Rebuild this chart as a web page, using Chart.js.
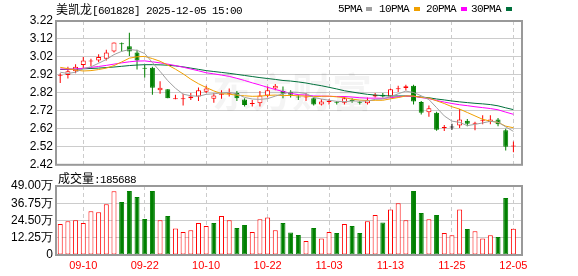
<!DOCTYPE html>
<html>
<head>
<meta charset="utf-8">
<script src="https://cdn.jsdelivr.net/npm/chart.js@4.4.1/dist/chart.umd.min.js"></script>
<style>
  html, body { margin: 0; padding: 0; background: #fff; }
  #wrap { position: relative; width: 578px; height: 276px; overflow: hidden; }
  canvas { position: absolute; left: 0; }
  #price-canvas { top: 0; }
  #vol-canvas { top: 170px; }
  .txt { position: absolute; font-family: "Noto Sans CJK SC"; font-size: 12px; line-height: 14px; color: #000; white-space: nowrap; }
  .mono { font-family: "Liberation Mono"; font-size: 11px; letter-spacing: -0.6px; }
  .sw { position: absolute; width: 6px; height: 4px; }
</style>
</head>
<body>
<div id="wrap">
  <canvas id="price-canvas" width="578" height="175"></canvas>
  <canvas id="vol-canvas" width="578" height="106"></canvas>
  <div class="txt" style="left:56px; top:2px">美凯龙<span class="mono">[601828] 2025-12-05 15:00</span></div>
  <div id="legend"></div>
  <div class="txt" style="left:58px; top:171px">成交量<span class="mono">:185688</span></div>
</div>
<script>
const dates = [
  "09-05", "09-08", "09-09", "09-10", "09-11", "09-12", "09-15", "09-16", "09-17", "09-18",
  "09-19", "09-22", "09-23", "09-24", "09-25", "09-26", "09-29", "09-30", "10-09", "10-10",
  "10-13", "10-14", "10-15", "10-16", "10-17", "10-20", "10-21", "10-22", "10-23", "10-24",
  "10-27", "10-28", "10-29", "10-30", "10-31", "11-03", "11-04", "11-05", "11-06", "11-07",
  "11-10", "11-11", "11-12", "11-13", "11-14", "11-17", "11-18", "11-19", "11-20", "11-21",
  "11-24", "11-25", "11-26", "11-27", "11-28", "12-01", "12-02", "12-03", "12-04", "12-05"
];
const opens = [
  2.915, 2.92, 2.94, 2.975, 2.995, 3.00, 3.01, 3.05, 3.095, 3.08,
  3.045, 2.96, 2.96, 2.835, 2.84, 2.785, 2.785, 2.79, 2.80, 2.826,
  2.788, 2.81, 2.812, 2.82, 2.783, 2.758, 2.762, 2.805, 2.845, 2.83,
  2.825, 2.80, 2.795, 2.79, 2.755, 2.77, 2.768, 2.765, 2.778, 2.77,
  2.762, 2.80, 2.81, 2.80, 2.84, 2.847, 2.86, 2.77, 2.712, 2.71,
  2.625, 2.628, 2.638, 2.665, 2.648, 2.665, 2.658, 2.672, 2.612, 2.522
];
const highs = [
  2.93, 2.965, 2.98, 3.02, 3.01, 3.035, 3.06, 3.10, 3.10, 3.155,
  3.06, 2.975, 2.965, 2.885, 2.842, 2.81, 2.815, 2.82, 2.85, 2.86,
  2.82, 2.835, 2.845, 2.83, 2.79, 2.78, 2.83, 2.855, 2.87, 2.855,
  2.835, 2.81, 2.82, 2.795, 2.785, 2.785, 2.775, 2.80, 2.79, 2.775,
  2.795, 2.82, 2.82, 2.845, 2.86, 2.865, 2.865, 2.775, 2.75, 2.715,
  2.642, 2.648, 2.73, 2.675, 2.66, 2.695, 2.695, 2.68, 2.62, 2.55
];
const lows = [
  2.875, 2.90, 2.93, 2.955, 2.97, 2.99, 3.00, 3.045, 3.05, 3.025,
  2.95, 2.905, 2.81, 2.815, 2.79, 2.785, 2.75, 2.78, 2.775, 2.82,
  2.765, 2.787, 2.80, 2.775, 2.745, 2.745, 2.745, 2.795, 2.835, 2.79,
  2.795, 2.78, 2.775, 2.75, 2.75, 2.755, 2.755, 2.755, 2.765, 2.755,
  2.755, 2.795, 2.795, 2.795, 2.825, 2.833, 2.755, 2.70, 2.688, 2.61,
  2.608, 2.615, 2.625, 2.635, 2.612, 2.645, 2.645, 2.635, 2.50, 2.49
];
const closes = [
  2.92, 2.94, 2.965, 3.00, 3.00, 3.02, 3.045, 3.10, 3.09, 3.05,
  3.00, 2.955, 2.848, 2.848, 2.79, 2.79, 2.79, 2.80, 2.835, 2.845,
  2.805, 2.813, 2.815, 2.79, 2.752, 2.76, 2.805, 2.835, 2.86, 2.815,
  2.81, 2.795, 2.80, 2.755, 2.772, 2.773, 2.765, 2.79, 2.775, 2.765,
  2.782, 2.81, 2.80, 2.84, 2.843, 2.857, 2.772, 2.71, 2.735, 2.615,
  2.628, 2.628, 2.672, 2.648, 2.65, 2.668, 2.672, 2.645, 2.52, 2.525
];
// volume in 万 shares
const volumes = [
  22.0, 23.9, 24.6, 22.7, 31.0, 30.3, 36.0, 45.2, 37.6, 45.4,
  41.2, 25.6, 45.4, 24.6, 27.7, 18.9, 16.3, 17.5, 22.7, 20.6,
  22.7, 27.7, 24.6, 19.2, 21.3, 16.3, 25.3, 26.7, 17.5, 22.7,
  15.9, 14.2, 9.9, 19.2, 11.8, 16.3, 15.6, 22.0, 20.6, 15.6,
  23.9, 28.4, 23.0, 32.4, 36.7, 24.6, 45.4, 29.8, 25.3, 28.4,
  15.6, 14.0, 32.4, 18.5, 16.8, 11.8, 14.0, 12.8, 40.5, 18.57
];
const ma5 = [
  2.935, 2.928, 2.935, 2.955, 2.965, 2.985, 3.006, 3.033, 3.051, 3.061,
  3.057, 3.039, 2.989, 2.940, 2.888, 2.846, 2.813, 2.804, 2.801, 2.812,
  2.815, 2.820, 2.823, 2.814, 2.795, 2.786, 2.784, 2.788, 2.802, 2.815,
  2.825, 2.823, 2.816, 2.795, 2.786, 2.779, 2.773, 2.771, 2.775, 2.774,
  2.775, 2.784, 2.786, 2.799, 2.815, 2.830, 2.822, 2.804, 2.783, 2.738,
  2.692, 2.663, 2.656, 2.638, 2.645, 2.653, 2.662, 2.657, 2.631, 2.606
];
const ma10 = [
  2.962, 2.955, 2.947, 2.942, 2.944, 2.950, 2.958, 2.972, 2.992, 3.013,
  3.021, 3.023, 3.011, 2.996, 2.975, 2.952, 2.926, 2.896, 2.871, 2.850,
  2.831, 2.816, 2.813, 2.807, 2.804, 2.801, 2.802, 2.806, 2.808, 2.805,
  2.806, 2.804, 2.802, 2.799, 2.801, 2.802, 2.798, 2.794, 2.785, 2.780,
  2.777, 2.779, 2.779, 2.787, 2.794, 2.803, 2.803, 2.795, 2.791, 2.776,
  2.761, 2.743, 2.730, 2.711, 2.692, 2.673, 2.663, 2.656, 2.635, 2.626
];
const ma20 = [
  2.953, 2.952, 2.953, 2.957, 2.962, 2.967, 2.973, 2.980, 2.987, 2.993,
  2.997, 2.998, 2.993, 2.987, 2.980, 2.972, 2.963, 2.953, 2.943, 2.932,
  2.926, 2.919, 2.912, 2.901, 2.889, 2.876, 2.864, 2.851, 2.839, 2.828,
  2.818, 2.810, 2.808, 2.803, 2.802, 2.801, 2.800, 2.800, 2.797, 2.793,
  2.791, 2.791, 2.790, 2.793, 2.798, 2.802, 2.801, 2.794, 2.788, 2.778,
  2.769, 2.761, 2.754, 2.749, 2.743, 2.738, 2.733, 2.726, 2.713, 2.701
];
const ma30 = [
  2.950, 2.951, 2.952, 2.954, 2.956, 2.958, 2.961, 2.964, 2.968, 2.972,
  2.975, 2.977, 2.977, 2.976, 2.974, 2.970, 2.965, 2.958, 2.951, 2.944,
  2.939, 2.934, 2.929, 2.923, 2.917, 2.911, 2.905, 2.900, 2.895, 2.889,
  2.886, 2.881, 2.875, 2.867, 2.860, 2.851, 2.842, 2.832, 2.825, 2.818,
  2.812, 2.808, 2.805, 2.803, 2.803, 2.803, 2.801, 2.797, 2.793, 2.786,
  2.781, 2.775, 2.770, 2.766, 2.762, 2.759, 2.755, 2.748, 2.737, 2.727
];
const priceTicks = [2.42, 2.52, 2.62, 2.72, 2.82, 2.92, 3.02, 3.12, 3.22];
const volumeTicks = [0, 12.25, 24.5, 36.75, 49];
const dateTickLabels = ["09-10", "09-22", "10-10", "10-22", "11-03", "11-13", "11-25", "12-05"];

const RED = "#ff0000";
const GREEN = "#008000";
const dateTickIdx = dateTickLabels.map((d) => dates.indexOf(d));

const maLines = [
  { name: "5PMA", values: ma5, color: "#a0a0a0", left: 338, sw: 366 },
  { name: "10PMA", values: ma10, color: "#f0a000", left: 379, sw: 414 },
  { name: "20PMA", values: ma20, color: "#ff00ff", left: 426, sw: 461 },
  { name: "30PMA", values: ma30, color: "#00703c", left: 471, sw: 506 }
];

// legend as html text
const legend = document.getElementById("legend");
maLines.forEach((m) => {
  const t = document.createElement("div");
  t.className = "txt mono";
  t.style.left = m.left + "px";
  t.style.top = "2px";
  t.textContent = m.name;
  legend.appendChild(t);
  const s = document.createElement("div");
  s.className = "sw";
  s.style.left = m.sw + "px";
  s.style.top = "7px";
  s.style.background = m.color;
  legend.appendChild(s);
});

function candleColor(i) {
  const o = opens[i], c = closes[i];
  const pc = i > 0 ? closes[i - 1] : o;
  if (c > o) return RED;
  if (c < o) return GREEN;
  if (c > pc) return RED;
  if (c < pc) return GREEN;
  return "#000000";
}
function volumeColor(i) {
  if (i === 0 || closes[i] >= closes[i - 1]) return RED;
  return GREEN;
}

const xMin = -0.55;
const xMax = 60.12;

const framePlugin = {
  id: "frame",
  afterDatasetsDraw(chart) {
    const a = chart.chartArea;
    const ctx = chart.ctx;
    ctx.save();
    ctx.strokeStyle = "#999";
    ctx.lineWidth = 2;
    ctx.strokeRect(a.left, a.top, a.right - a.left, a.bottom - a.top);
    ctx.restore();
  }
};

const watermark = {
  id: "watermark",
  beforeDatasetsDraw(chart) {
    const ctx = chart.ctx;
    ctx.save();
    ctx.font = 'bold 40px "Noto Sans CJK SC"';
    ctx.fillStyle = "rgba(0,0,0,0.045)";
    ctx.textAlign = "center";
    ctx.textBaseline = "middle";
    ctx.fillText("东方财富", 292, 92);
    ctx.restore();
  }
};

Chart.defaults.font.family = "Liberation Sans";
Chart.defaults.font.size = 12;
Chart.defaults.color = "#000";

const idx = dates.map((d, i) => i);

const priceChart = new Chart(document.getElementById("price-canvas"), {
  type: "bar",
  data: {
    datasets: [
      ...maLines.map((m) => ({
        type: "line",
        label: m.name,
        data: m.values.map((v, i) => ({ x: i, y: v })),
        borderColor: m.color,
        borderWidth: 1,
        pointRadius: 0,
        tension: 0,
        order: 0
      })),
      {
        label: "body",
        data: idx.map((i) => ({ x: i, y: [Math.min(opens[i], closes[i]), Math.max(opens[i], closes[i])] })),
        backgroundColor: idx.map((i) => (closes[i] > opens[i] ? "#ffffff" : candleColor(i))),
        borderColor: idx.map((i) => candleColor(i)),
        borderWidth: 1,
        borderSkipped: false,
        barThickness: 5,
        minBarLength: 1,
        grouped: false,
        inflateAmount: 0,
        order: 1
      },
      {
        label: "wick",
        data: idx.map((i) => ({ x: i, y: [lows[i], highs[i]] })),
        backgroundColor: idx.map((i) => candleColor(i)),
        borderWidth: 0,
        barThickness: 1,
        grouped: false,
        inflateAmount: 0,
        order: 2
      }
    ]
  },
  options: {
    responsive: false,
    animation: false,
    events: [],
    layout: { padding: { left: 0, right: 56, top: 21, bottom: 10 } },
    plugins: { legend: { display: false }, tooltip: { enabled: false } },
    scales: {
      x: {
        type: "linear",
        offset: false,
        min: xMin,
        max: xMax,
        afterBuildTicks: (s) => { s.ticks = dateTickIdx.map((v) => ({ value: v })); },
        afterFit: (s) => { s.height = 0; },
        ticks: { display: false },
        grid: { color: "#cccccc", drawTicks: false, offset: false },
        border: { display: false, dash: [4, 3] }
      },
      y: {
        min: 2.42,
        max: 3.22,
        afterBuildTicks: (s) => { s.ticks = priceTicks.map((v) => ({ value: v })); },
        afterFit: (s) => { s.width = 56; },
        ticks: { callback: (v) => v.toFixed(2), padding: 3, autoSkip: false, font: { size: 12 } },
        grid: { color: "#cccccc", drawTicks: false },
        border: { display: false }
      }
    }
  },
  plugins: [watermark, framePlugin]
});

const volChart = new Chart(document.getElementById("vol-canvas"), {
  type: "bar",
  data: {
    datasets: [
      {
        label: "成交量",
        data: idx.map((i) => ({ x: i, y: volumes[i] })),
        backgroundColor: idx.map((i) => (volumeColor(i) === RED ? "#ffffff" : GREEN)),
        borderColor: idx.map((i) => volumeColor(i)),
        borderWidth: 1,
        borderSkipped: false,
        barThickness: 5,
        inflateAmount: 0
      }
    ]
  },
  options: {
    responsive: false,
    animation: false,
    events: [],
    layout: { padding: { left: 0, right: 56, top: 16, bottom: 0 } },
    plugins: { legend: { display: false }, tooltip: { enabled: false } },
    scales: {
      x: {
        type: "linear",
        offset: false,
        min: xMin,
        max: xMax,
        afterBuildTicks: (s) => { s.ticks = dateTickIdx.map((v) => ({ value: v })); },
        afterFit: (s) => { s.height = 21; },
        ticks: {
          callback: (v) => dates[v],
          color: RED,
          font: { size: 11 },
          padding: 4,
          autoSkip: false,
          maxRotation: 0
        },
        grid: { color: "#cccccc", drawTicks: false, offset: false },
        border: { display: false, dash: [4, 3] }
      },
      y: {
        min: 0,
        max: 49,
        afterBuildTicks: (s) => { s.ticks = volumeTicks.map((v) => ({ value: v })); },
        afterFit: (s) => { s.width = 56; },
        ticks: { callback: (v) => (v === 0 ? "0" : v.toFixed(2) + "万"), padding: 3, autoSkip: false, font: { size: 12 } },
        grid: { color: "#cccccc", drawTicks: false },
        border: { display: false }
      }
    }
  },
  plugins: [framePlugin]
});
</script>
</body>
</html>
